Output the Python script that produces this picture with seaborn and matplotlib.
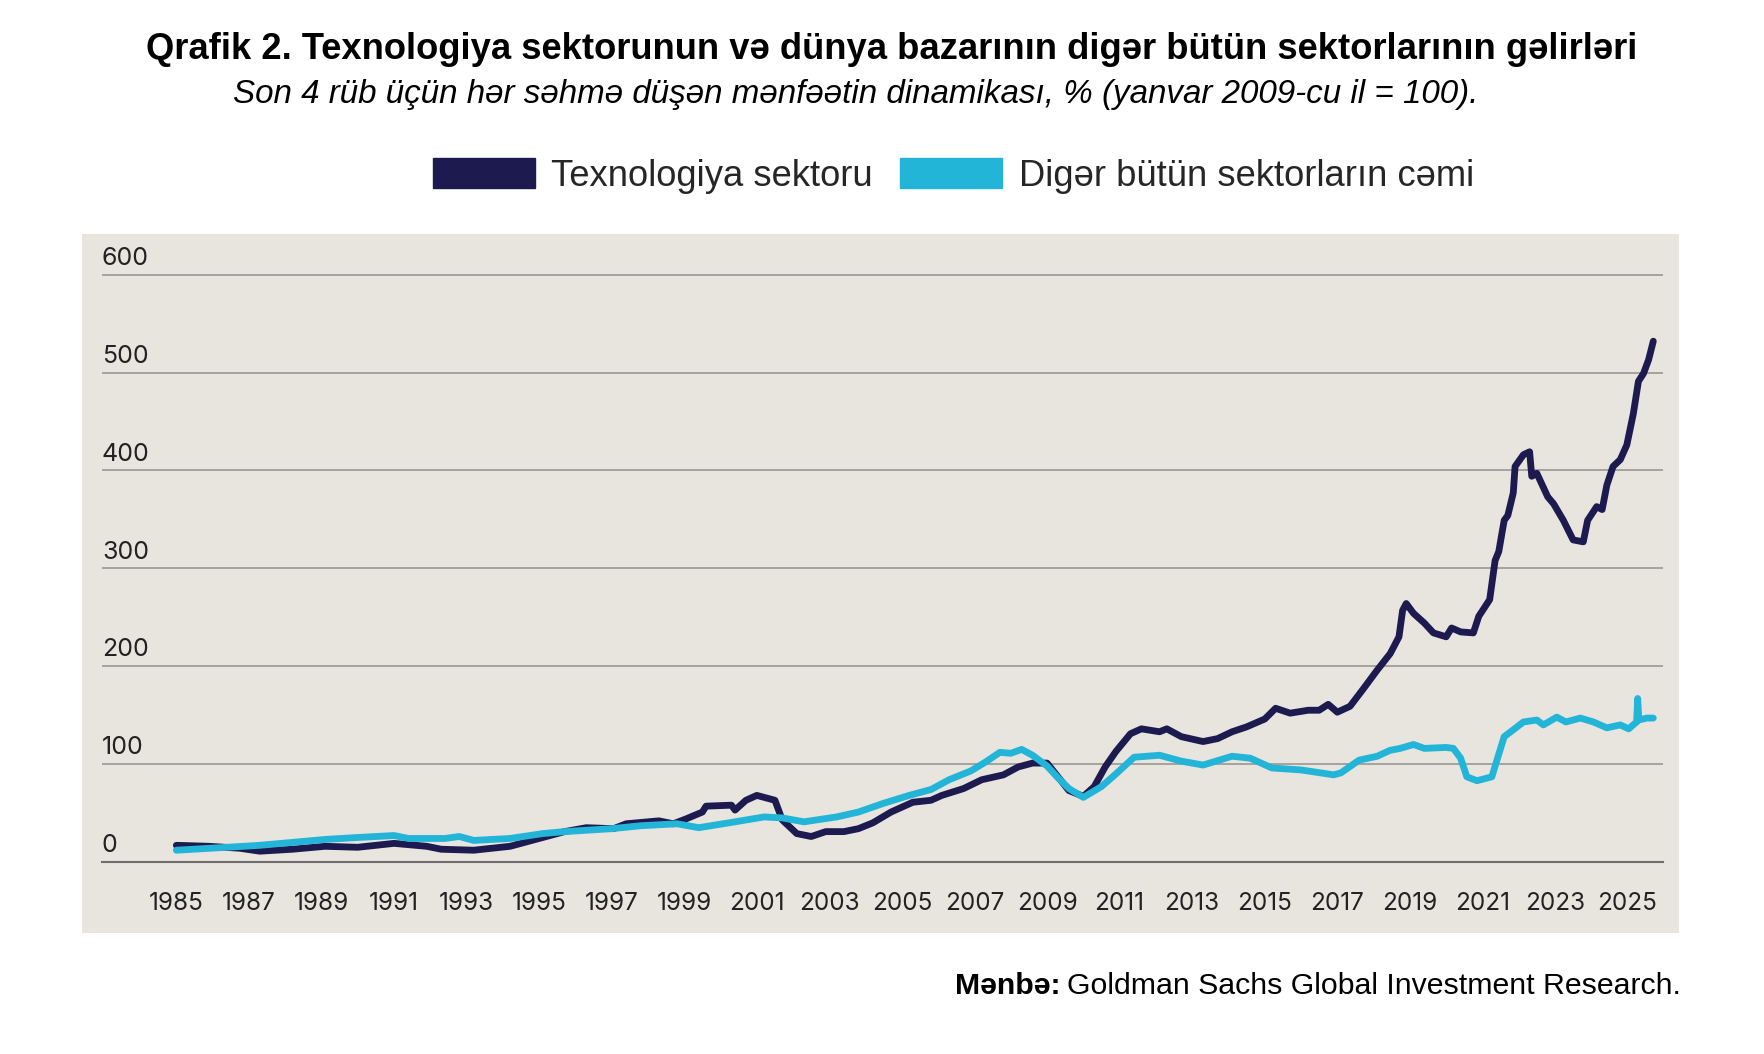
import matplotlib
matplotlib.use("Agg")
import matplotlib.pyplot as plt
from matplotlib.patches import Patch, Rectangle
import pandas as pd
import seaborn as sns

# values (index, Jan 2009 = 100)
tech_years = [1985.0, 1985.9, 1986.75, 1987.3, 1988.2, 1989.1, 1990.0, 1991.0, 1991.9, 1992.3,
              1993.2, 1994.2, 1994.7, 1995.0, 1995.7, 1996.3, 1997.05, 1997.4, 1998.3, 1998.7,
              1999.05, 1999.5, 1999.6, 2000.3, 2000.4, 2000.7, 2001.0, 2001.5, 2001.7, 2002.1,
              2002.5, 2002.9, 2003.4, 2003.8, 2004.2, 2004.7, 2005.3, 2005.8, 2006.1, 2006.7,
              2007.2, 2007.8, 2008.2, 2008.6, 2009.0, 2009.3, 2009.6, 2010.0, 2010.3, 2010.6,
              2010.9, 2011.3, 2011.6, 2012.1, 2012.3, 2012.7, 2013.3, 2013.7, 2014.1, 2014.5,
              2015.0, 2015.3, 2015.7, 2016.2, 2016.5, 2016.75, 2017.0, 2017.35, 2017.7, 2018.1,
              2018.46, 2018.7, 2018.8, 2018.9, 2019.1, 2019.4, 2019.65, 2020.0, 2020.15, 2020.4,
              2020.75, 2020.9, 2021.2, 2021.35, 2021.45, 2021.6, 2021.7, 2021.85, 2021.9, 2022.13,
              2022.3, 2022.36, 2022.5, 2022.8, 2022.96, 2023.23, 2023.5, 2023.78, 2023.9, 2024.15,
              2024.3, 2024.43, 2024.6, 2024.8, 2024.98, 2025.16, 2025.3, 2025.44, 2025.58, 2025.71]
tech_vals = [17, 16, 14, 11, 13, 16, 15, 19, 16, 13,
             12, 16, 21, 24, 31, 35, 34, 39, 42, 39,
             44, 51, 57, 58, 53, 63, 68, 63, 43, 29,
             26, 31, 31, 34, 40, 51, 61, 63, 68, 75,
             84, 89, 97, 101, 101, 87, 73, 67, 77, 97,
             113, 131, 136, 133, 136, 128, 123, 126, 133, 138,
             146, 157, 152, 155, 155, 161, 153, 159, 176, 196,
             213, 230, 257, 264, 254, 244, 234, 230, 239, 235,
             234, 251, 268, 308, 317, 349, 354, 377, 404, 416,
             419, 394, 397, 373, 366, 349, 329, 327, 349, 363,
             360, 385, 404, 411, 426, 458, 491, 499, 513, 532]

other_years = [1985.0, 1986.4, 1987.3, 1988.2, 1989.1, 1990.0, 1991.0, 1991.4, 1992.4, 1992.8,
               1993.2, 1994.2, 1995.1, 1995.7, 1997.0, 1997.8, 1998.8, 1999.4, 2000.4, 2001.2,
               2001.7, 2002.3, 2003.2, 2003.8, 2004.5, 2005.2, 2005.8, 2006.3, 2006.9, 2007.3,
               2007.7, 2008.0, 2008.3, 2008.6, 2009.0, 2009.3, 2009.6, 2010.0, 2010.5, 2010.9,
               2011.4, 2011.75, 2012.1, 2012.7, 2013.3, 2014.1, 2014.6, 2015.2, 2016.0, 2016.9,
               2017.1, 2017.6, 2018.1, 2018.45, 2018.73, 2019.1, 2019.4, 2020.0, 2020.2, 2020.4,
               2020.57, 2020.85, 2021.26, 2021.4, 2021.6, 2021.85, 2022.13, 2022.5, 2022.68, 2023.05,
               2023.3, 2023.7, 2024.06, 2024.43, 2024.8, 2025.03, 2025.25, 2025.28, 2025.31, 2025.53,
               2025.71]
other_vals = [12, 15, 17, 20, 23, 25, 27, 24, 24, 26,
              22, 24, 29, 31, 34, 37, 39, 35, 41, 46,
              45, 41, 46, 51, 60, 68, 74, 84, 93, 102,
              112, 111, 115, 109, 98, 86, 75, 66, 77, 90,
              107, 108, 109, 103, 99, 108, 106, 96, 94, 89,
              91, 104, 108, 114, 116, 120, 116, 117, 116, 106,
              87, 83, 87, 104, 128, 135, 143, 145, 140, 148,
              143, 147, 143, 137, 140, 136, 143, 167, 145, 147,
              147]

series_names = ["Texnologiya sektoru", "Digər bütün sektorların cəmi"]
series_colors = ["#1c1a4e", "#22b5d8"]
year_ticks = list(range(1985, 2026, 2))
value_ticks = [0, 100, 200, 300, 400, 500, 600]

df = pd.concat([
    pd.DataFrame({"il": tech_years, "dəyər": tech_vals, "seriya": series_names[0]}),
    pd.DataFrame({"il": other_years, "dəyər": other_vals, "seriya": series_names[1]}),
])

sns.set_style("white")
plt.rcParams["font.family"] = ["Liberation Sans", "DejaVu Sans"]

panel_col = "#e8e4de"
fig = plt.figure(figsize=(17.64, 10.54), dpi=100)
fig.patches.append(Rectangle((0.0465, 0.1148), 0.9053, 0.6632, transform=fig.transFigure,
                             facecolor=panel_col, edgecolor="none", zorder=-5))

ax = fig.add_axes([0.0578, 0.1822, 0.885, 0.5619])
ax.set_zorder(2)
ax.set_facecolor("none")

sns.lineplot(data=df, x="il", y="dəyər", hue="seriya", hue_order=series_names,
             palette=series_colors, linewidth=4.9, legend=False, ax=ax,
             solid_capstyle="round", solid_joinstyle="round")

ax.set_xlim(1982.95, 2025.98)
ax.set_ylim(0, 605)
ax.set_xlabel("")
ax.set_ylabel("")

ax.set_xticks(year_ticks)
ax.set_xticklabels([str(y) for y in year_ticks], fontfamily="Inter", fontsize=17.5, color="#222222")
ax.tick_params(axis="x", direction="out", length=13, width=1.4, color="#6e6e6e", pad=8.5)

ax.set_yticks(value_ticks)
ax.set_yticklabels([])
ax.tick_params(axis="y", length=0)
ax.yaxis.grid(True, color="#9a9792", linewidth=1.2)
ax.set_axisbelow(True)
for v in value_ticks:
    ax.annotate(str(v), xy=(0, v), xycoords=("axes fraction", "data"),
                xytext=(0, 7), textcoords="offset points", ha="left", va="baseline",
                fontfamily="Inter", fontsize=18, color="#222222", annotation_clip=False)

for s in ["top", "right", "left"]:
    ax.spines[s].set_visible(False)
ax.spines["bottom"].set_color("#6e6e6e")
ax.spines["bottom"].set_linewidth(1.5)

fig.text(0.5055, 0.953, "Qrafik 2. Texnologiya sektorunun və dünya bazarının digər bütün sektorlarının gəlirləri",
         ha="center", va="center", fontsize=26.2, fontweight="bold", color="black")
fig.text(0.485, 0.910, "Son 4 rüb üçün hər səhmə düşən mənfəətin dinamikası, % (yanvar 2009-cu il = 100).",
         ha="center", va="center", fontsize=23.9, fontstyle="italic", color="black")

handles = [Patch(facecolor=c, edgecolor=c) for c in series_colors]
fig.legend(handles, series_names, loc="center", bbox_to_anchor=(0.5405, 0.833), ncol=2,
           frameon=False, fontsize=26.2, handlelength=2.8, handleheight=0.9,
           handletextpad=0.45, columnspacing=0.75)

src = fig.text(0.953, 0.0645, "Goldman Sachs Global Investment Research.",
               ha="right", va="center", fontsize=21.8, color="black")
ax.annotate("Mənbə:", xy=(0, 0.5), xycoords=src, xytext=(-5, 0), textcoords="offset points",
            ha="right", va="center", fontsize=21.8, fontweight="bold", color="black",
            annotation_clip=False)

fig.savefig("out.png", dpi=100, facecolor="white")
